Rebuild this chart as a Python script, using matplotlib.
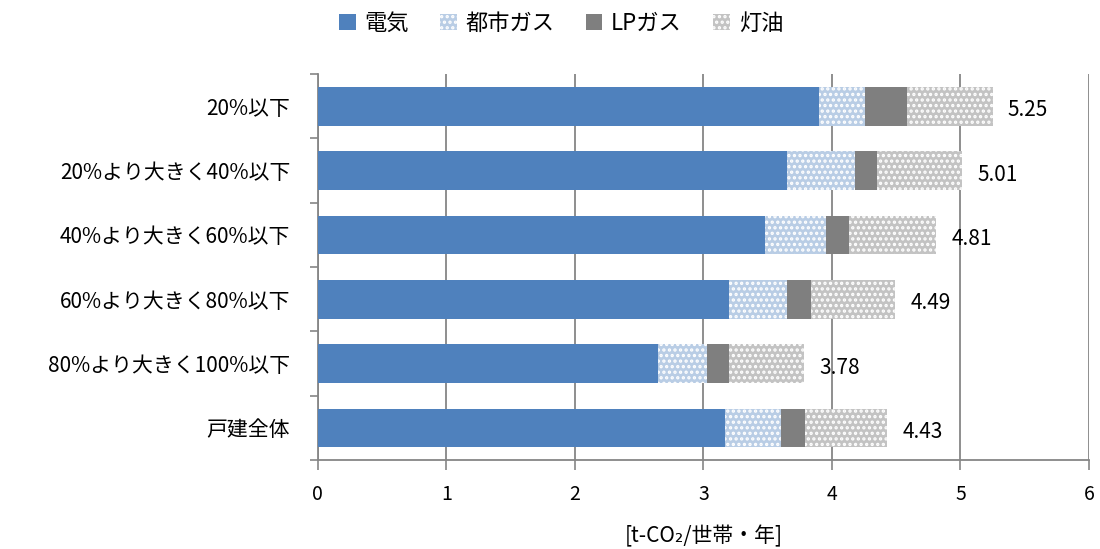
import matplotlib
matplotlib.use("Agg")
import matplotlib.pyplot as plt
import numpy as np
from matplotlib.patches import Patch

plt.rcParams['font.family'] = ['Noto Sans CJK JP', 'DejaVu Sans']
plt.rcParams['hatch.linewidth'] = 1.6

categories = ["20%以下", "20%より大きく40%以下", "40%より大きく60%以下",
              "60%より大きく80%以下", "80%より大きく100%以下", "戸建全体"]
series_names = ["電気", "都市ガス", "LPガス", "灯油"]
electricity = [3.90, 3.65, 3.48, 3.20, 2.65, 3.17]
city_gas = [0.36, 0.53, 0.47, 0.45, 0.38, 0.43]
lp_gas = [0.32, 0.17, 0.18, 0.19, 0.17, 0.19]
kerosene = [0.67, 0.66, 0.68, 0.65, 0.58, 0.64]
totals = [5.25, 5.01, 4.81, 4.49, 3.78, 4.43]
xticks = [0, 1, 2, 3, 4, 5, 6]

colors = ["#4f81bd", "#b9cde5", "#7f7f7f", "#c3c3c3"]
hatches = [None, "...", None, "..."]

fig = plt.figure(figsize=(11, 5.49), dpi=100)
ax = fig.add_axes([0.289, 0.162, 0.701, 0.703])

y = np.arange(len(categories))
left = np.zeros(len(categories))
handles = []
for vals, col, h, name in zip([electricity, city_gas, lp_gas, kerosene], colors, hatches, series_names):
    ax.barh(y, vals, left=left, height=0.6, color=col, hatch=h,
            edgecolor="white" if h else col, linewidth=0, zorder=3)
    left = left + np.array(vals)
    handles.append(Patch(facecolor=col, hatch=h, edgecolor="white" if h else col, linewidth=0, label=name))

for yi, t in zip(y, totals):
    ax.annotate(f"{t:.2f}", xy=(t, yi), xytext=(11, -3), textcoords="offset points",
                ha="left", va="center", fontsize=15, color="#000000", zorder=4)

ax.set_xlim(0, 6)
ax.set_ylim(len(categories) - 0.5, -0.5)
ax.set_xticks(xticks)
ax.set_xticklabels([str(v) for v in xticks], fontsize=14)
ax.set_yticks(y)
ax.set_yticklabels(categories, fontsize=15)
ax.set_yticks(np.arange(-0.5, len(categories) + 0.5, 1), minor=True)
ax.tick_params(axis="y", which="major", length=0, pad=20)
ax.tick_params(axis="y", which="minor", length=6, color="#868686", width=1.2)
ax.tick_params(axis="x", which="major", length=7, color="#868686", width=1.2, pad=10)

ax.grid(axis="x", color="#868686", linewidth=1.3, zorder=0)
for s in ["top", "right"]:
    ax.spines[s].set_visible(False)
for s in ["left", "bottom"]:
    ax.spines[s].set_color("#868686")
    ax.spines[s].set_linewidth(1.3)

ax.set_xlabel("[t-CO₂/世帯・年]", fontsize=15, labelpad=15)

fig.legend(handles=handles, loc="upper center", bbox_to_anchor=(0.51, 1.015), ncol=4,
           frameon=False, fontsize=16, handlelength=0.75, handleheight=0.75,
           handletextpad=0.4, columnspacing=1.4)

fig.savefig("out.png", dpi=100)
